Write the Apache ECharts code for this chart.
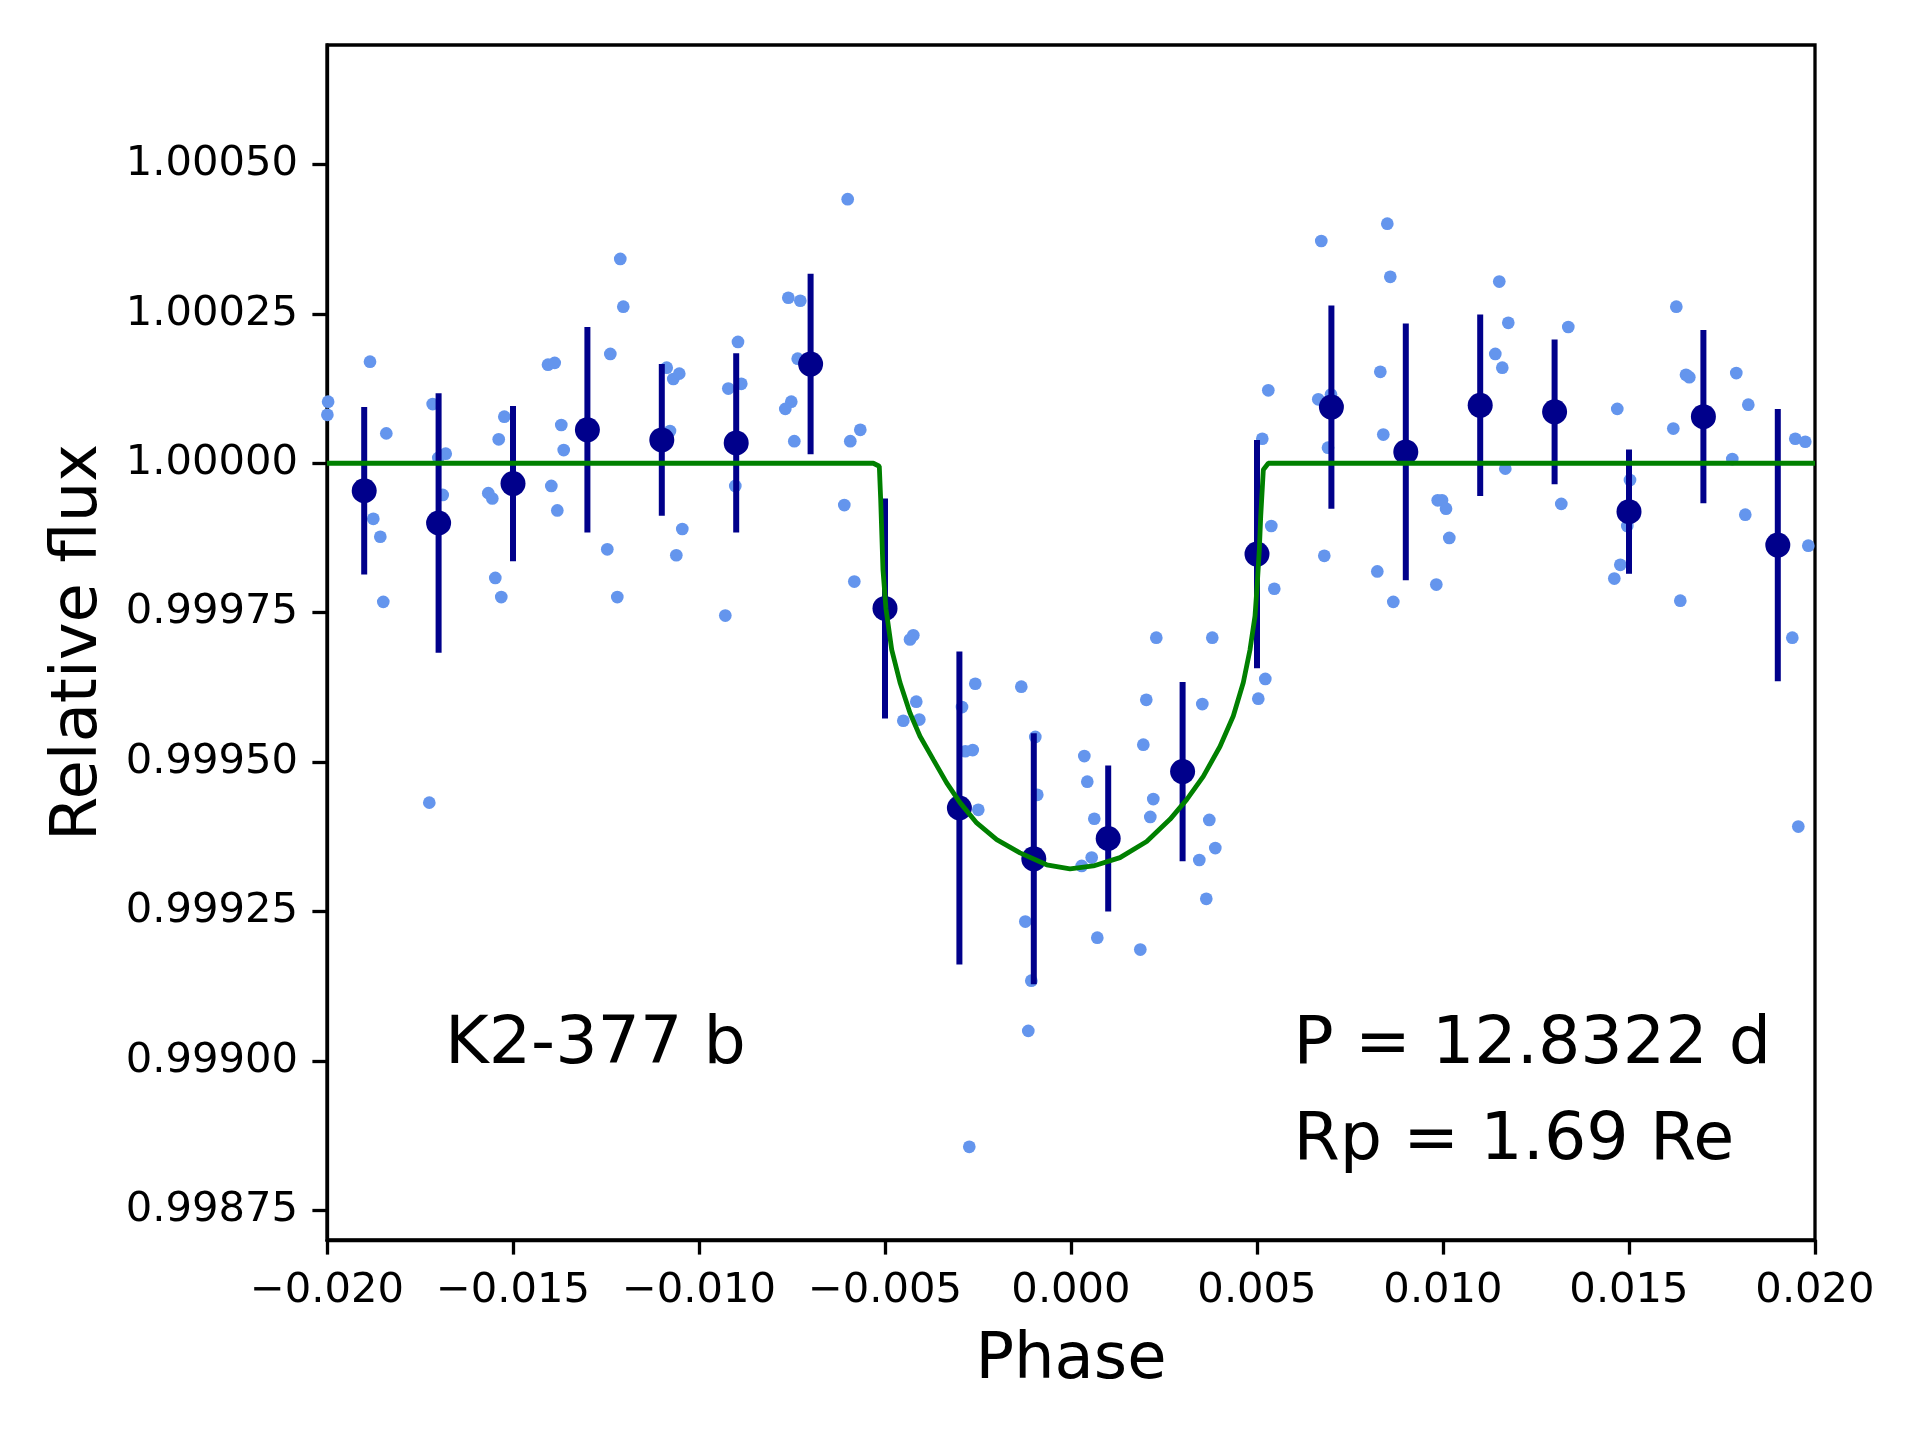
<!DOCTYPE html>
<html><head><meta charset="utf-8">
<script src="https://cdn.jsdelivr.net/npm/echarts@6/dist/echarts.min.js"></script>
<style>html,body{margin:0;padding:0;background:#fff}#c{width:1920px;height:1440px}</style>
</head><body><div id="c"></div>
<script>
// ---- data ----
const rawPhase = [
 -0.01997,-0.01999,-0.018844,-0.018406,-0.018755,-0.018567,-0.017159,-0.017008,-0.016809,-0.016890,
 -0.015234,-0.015384,-0.015664,-0.015556,-0.014059,-0.013879,-0.013702,-0.013637,-0.013970,-0.013809,
 -0.012116,-0.012035,-0.012384,-0.012465,-0.010868,-0.010691,-0.010530,-0.010780,-0.010449,-0.010610,
 -0.008952,-0.008863,-0.009212,-0.009024,-0.007599,-0.007277,-0.007347,-0.007519,-0.007680,-0.007438,
 -0.006094,-0.018487,-0.017250,-0.015476,-0.015315,-0.012196,-0.009293,-0.006003,-0.005664,-0.005933,
 0.006728,0.005304,0.005142,0.005384,0.006648,0.006989,0.006909,0.006809,0.008503,0.008583,
 0.008315,0.008395,0.008234,0.009858,0.009973,0.010081,0.010169,0.011513,0.011755,0.011406,
 0.011594,0.011675,0.013368,0.013180,0.014685,0.015027,0.014954,0.014766,0.016272,0.016532,
 0.016621,0.016191,0.017884,0.018207,0.017777,0.018126,0.019470,0.019739,0.019820,0.008664,
 0.009820,0.014605,0.016379,0.019390,0.019551,-0.005825,-0.004328,-0.004239,-0.004159,-0.004508,
 -0.004078,-0.002573,-0.002930,-0.002841,-0.002642,-0.002492,-0.001336,-0.000960,-0.000906,-0.001228,
 0.000358,0.000438,0.000626,0.000556,0.000288,0.000707,0.002293,0.002024,0.001944,0.002212,
 0.002132,0.001863,0.003798,0.003530,0.003718,0.003879,0.003449,0.003637,0.005223,0.005035,
 0.005465,-0.001067,-0.001148,-0.002734
];
const rawFlux = [
 1.000103,1.000081,1.000170,1.000050,0.999907,0.999877,1.000099,1.000009,1.000016,0.999947,
 1.000078,1.000040,0.999950,0.999941,1.000165,1.000168,1.000064,1.000022,0.999962,0.999921,
 1.000342,1.000262,1.000183,0.999856,1.000160,1.000141,1.000150,1.000054,0.999890,0.999846,
 1.000203,1.000133,1.000125,0.999962,1.000277,1.000272,1.000175,1.000103,1.000091,1.000037,
 0.999930,0.999768,0.999432,0.999808,0.999776,0.999776,0.999745,1.000442,1.000056,1.000037,
 1.000372,1.000122,1.000041,0.999895,1.000107,1.000115,1.000026,0.999845,1.000401,1.000312,
 1.000153,1.000048,0.999819,0.999938,0.999938,0.999924,0.999875,1.000304,1.000235,1.000183,
 1.000160,0.999991,1.000228,0.999932,1.000091,0.999972,0.999895,0.999830,1.000262,1.000148,
 1.000144,1.000058,1.000151,1.000098,1.000007,0.999914,1.000041,1.000036,0.999862,0.999768,
 0.999797,0.999807,0.999770,0.999708,0.999392,0.999802,0.999705,0.999712,0.999601,0.999569,
 0.999571,0.999631,0.999592,0.999518,0.999520,0.999420,0.999626,0.999542,0.999445,0.999233,
 0.999510,0.999467,0.999405,0.999340,0.999326,0.999206,0.999708,0.999604,0.999529,0.999438,
 0.999408,0.999186,0.999708,0.999597,0.999403,0.999356,0.999336,0.999271,0.999639,0.999606,
 0.999790,0.999134,0.999050,0.998856
];
const binPhase = [-0.019,-0.017,-0.015,-0.013,-0.011,-0.009,-0.007,-0.005,-0.003,-0.001,
                  0.001,0.003,0.005,0.007,0.009,0.011,0.013,0.015,0.017,0.019];
const binFlux = [0.999954,0.999900,0.999966,1.000056,1.000039,1.000034,1.000166,0.999757,0.999423,0.999338,
                 0.999372,0.999484,0.999848,1.000094,1.000019,1.000097,1.000086,0.999919,1.000078,0.999863];
const binErr = [0.000140,0.000217,0.000130,0.000172,0.000127,0.000150,0.000151,0.000184,0.000262,0.000210,
                0.000122,0.000150,0.000191,0.000170,0.000215,0.000152,0.000121,0.000104,0.000145,0.000228];
const modelPhase = [-0.020,-0.005314,-0.005153,-0.005116,-0.005055,-0.004973,-0.004820,-0.004597,-0.004328,-0.004059,
  -0.003701,-0.003342,-0.002984,-0.002535,-0.001997,-0.001371,-0.000653,-0.000027,0.000600,0.001317,
  0.002035,0.002661,0.003110,0.003557,0.004005,0.004363,0.004632,0.004812,0.004946,0.005009,
  0.005063,0.005100,0.005170,0.005304,0.020];
const modelFlux = [1.000000,1.000000,0.999995,0.999939,0.999822,0.999756,0.999688,0.999633,0.999582,0.999543,
  0.999504,0.999465,0.999432,0.999398,0.999370,0.999348,0.999328,0.999321,0.999326,0.999340,
  0.999367,0.999404,0.999437,0.999476,0.999526,0.999577,0.999633,0.999688,0.999744,0.999800,
  0.999856,0.999911,0.999989,1.000000,1.000000];
const yTicks = [0.99875,0.99900,0.99925,0.99950,0.99975,1.00000,1.00025,1.00050];
const planetLabel = 'K2-377 b';
const periodLabel = 'P = 12.8322 d';
const radiusLabel = 'Rp = 1.69 Re';

// ---- chart ----
const FONT = 'DejaVu Sans';
const chart = echarts.init(document.getElementById('c'), null, {renderer:'canvas'});
const fmtX = v => Math.abs(v) < 1e-9 ? '0.000' : (v < 0 ? '\u2212' : '') + Math.abs(v).toFixed(3);
chart.setOption({
  animation: false,
  backgroundColor: '#fff',
  grid: {left: 327, top: 45, width: 1488, height: 1195, show: true, borderColor: '#000', borderWidth: 3.3,
         backgroundColor: 'transparent', containLabel: false, outerBoundsMode: 'none'},
  xAxis: {
    type: 'value', min: -0.02, max: 0.02, interval: 0.005,
    axisLine: {show: true, onZero: false, lineStyle: {color: '#000', width: 3.3}},
    axisTick: {show: true, length: 14.6, lineStyle: {color: '#000', width: 3.3}},
    axisLabel: {formatter: fmtX, fontSize: 41.67, fontFamily: FONT, color: '#000', margin: 30,
                showMinLabel: true, showMaxLabel: true},
    splitLine: {show: false},
    name: 'Phase', nameLocation: 'middle', nameGap: 89,
    nameTextStyle: {fontSize: 64, fontFamily: FONT, color: '#000'}
  },
  yAxis: {
    type: 'value', min: 0.99870, max: 1.00070,
    axisLine: {show: true, onZero: false, lineStyle: {color: '#000', width: 3.3}},
    axisTick: {show: true, length: 14.6, customValues: yTicks, lineStyle: {color: '#000', width: 3.3}},
    axisLabel: {customValues: yTicks, formatter: v => v.toFixed(5), fontSize: 41.67, fontFamily: FONT,
                color: '#000', margin: 29, padding: [5, 0, 0, 0]},
    splitLine: {show: false},
    name: 'Relative flux', nameLocation: 'middle', nameGap: 216, nameRotate: 90,
    nameTextStyle: {fontSize: 64, fontFamily: FONT, color: '#000'}
  },
  series: [
    {type: 'scatter', data: rawPhase.map((p, i) => [p, rawFlux[i]]), symbolSize: 12.7,
     itemStyle: {color: '#6495ED', opacity: 1}, z: 1, silent: true},
    {type: 'custom', data: binPhase.map((p, i) => [p, binFlux[i] - binErr[i], binFlux[i] + binErr[i]]),
     encode: {x: 0, y: [1, 2]}, z: 2, silent: true,
     renderItem: (params, api) => {
       const a = api.coord([api.value(0), api.value(2)]);
       const b = api.coord([api.value(0), api.value(1)]);
       return {type: 'line', shape: {x1: a[0], y1: a[1], x2: b[0], y2: b[1]},
               style: {stroke: '#00008B', lineWidth: 6}};
     }},
    {type: 'scatter', data: binPhase.map((p, i) => [p, binFlux[i]]), symbolSize: 25,
     itemStyle: {color: '#00008B', opacity: 1}, z: 3, silent: true},
    {type: 'line', data: modelPhase.map((p, i) => [p, modelFlux[i]]), showSymbol: false, symbol: 'none',
     lineStyle: {color: '#008000', width: 4.8}, z: 4, silent: true}
  ],
  graphic: [
    {type: 'text', x: 445, y: 1046, style: {text: planetLabel, fontSize: 66.67, fontFamily: FONT, fill: '#000',
      align: 'left', verticalAlign: 'middle'}},
    {type: 'text', x: 1293.5, y: 1046, style: {text: periodLabel, fontSize: 66.67, fontFamily: FONT, fill: '#000',
      align: 'left', verticalAlign: 'middle'}},
    {type: 'text', x: 1293.5, y: 1142, style: {text: radiusLabel, fontSize: 66.67, fontFamily: FONT, fill: '#000',
      align: 'left', verticalAlign: 'middle'}}
  ]
});
</script></body></html>
